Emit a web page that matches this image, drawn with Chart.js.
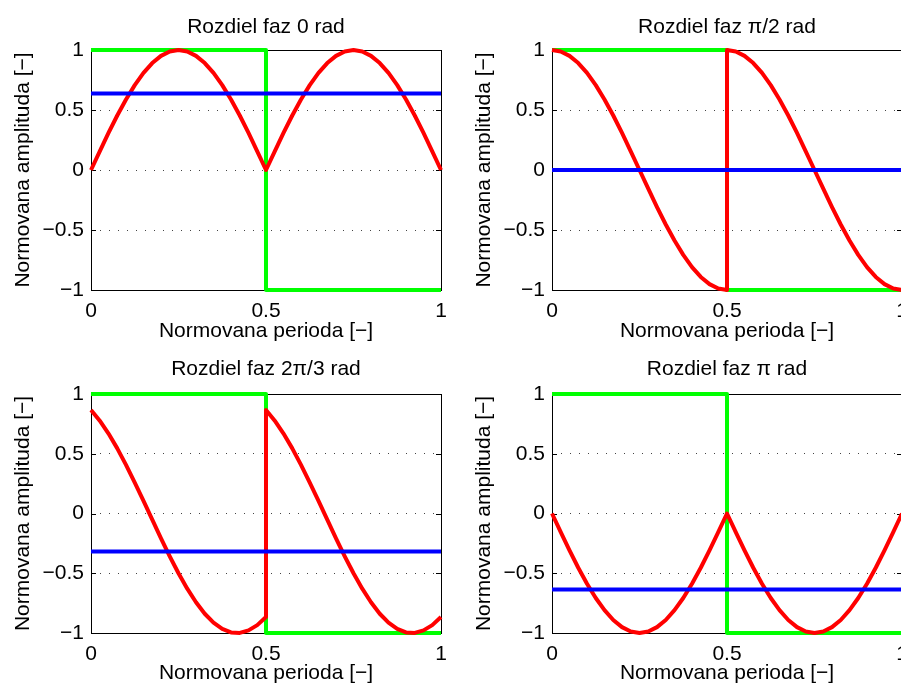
<!DOCTYPE html>
<html>
<head>
<meta charset="utf-8">
<script src="https://cdn.jsdelivr.net/npm/chart.js@4/dist/chart.umd.min.js"></script>
<style>
  html, body { margin: 0; padding: 0; background: #fff; }
  body { width: 901px; height: 690px; overflow: hidden; position: relative; }
  canvas { position: absolute; }
</style>
</head>
<body>
<canvas id="plot-0" width="460" height="345" style="left:0px;top:0px"></canvas>
<canvas id="plot-1" width="460" height="345" style="left:461px;top:0px"></canvas>
<canvas id="plot-2" width="460" height="345" style="left:0px;top:345px"></canvas>
<canvas id="plot-3" width="460" height="345" style="left:461px;top:345px"></canvas>
<script>
// values
const titles = ['Rozdiel faz 0 rad', 'Rozdiel faz \u03c0/2 rad', 'Rozdiel faz 2\u03c0/3 rad', 'Rozdiel faz \u03c0 rad'];

const periodX = [0, 0.025, 0.05, 0.075, 0.1, 0.125, 0.15, 0.175, 0.2, 0.225, 0.25, 0.275, 0.3, 0.325, 0.35, 0.375, 0.4, 0.425, 0.45, 0.475, 0.5,
  0.525, 0.55, 0.575, 0.6, 0.625, 0.65, 0.675, 0.7, 0.725, 0.75, 0.775, 0.8, 0.825, 0.85, 0.875, 0.9, 0.925, 0.95, 0.975, 1];
const jumpX = [0, 0.025, 0.05, 0.075, 0.1, 0.125, 0.15, 0.175, 0.2, 0.225, 0.25, 0.275, 0.3, 0.325, 0.35, 0.375, 0.4, 0.425, 0.45, 0.475, 0.5,
  0.5, 0.525, 0.55, 0.575, 0.6, 0.625, 0.65, 0.675, 0.7, 0.725, 0.75, 0.775, 0.8, 0.825, 0.85, 0.875, 0.9, 0.925, 0.95, 0.975, 1];

const redZero = [0, 0.156, 0.309, 0.454, 0.588, 0.707, 0.809, 0.891, 0.951, 0.988, 1, 0.988, 0.951, 0.891, 0.809, 0.707, 0.588, 0.454, 0.309, 0.156, 0,
  0.156, 0.309, 0.454, 0.588, 0.707, 0.809, 0.891, 0.951, 0.988, 1, 0.988, 0.951, 0.891, 0.809, 0.707, 0.588, 0.454, 0.309, 0.156, 0];
const redHalfPi = [1, 0.988, 0.951, 0.891, 0.809, 0.707, 0.588, 0.454, 0.309, 0.156, 0, -0.156, -0.309, -0.454, -0.588, -0.707, -0.809, -0.891, -0.951, -0.988, -1,
  1, 0.988, 0.951, 0.891, 0.809, 0.707, 0.588, 0.454, 0.309, 0.156, 0, -0.156, -0.309, -0.454, -0.588, -0.707, -0.809, -0.891, -0.951, -0.988, -1];
const redTwoThirdsPi = [0.866, 0.777, 0.669, 0.545, 0.407, 0.259, 0.105, -0.052, -0.208, -0.358, -0.5, -0.629, -0.743, -0.839, -0.914, -0.966, -0.995, -0.999, -0.978, -0.934, -0.866,
  0.866, 0.777, 0.669, 0.545, 0.407, 0.259, 0.105, -0.052, -0.208, -0.358, -0.5, -0.629, -0.743, -0.839, -0.914, -0.966, -0.995, -0.999, -0.978, -0.934, -0.866];
const redPi = [0, -0.156, -0.309, -0.454, -0.588, -0.707, -0.809, -0.891, -0.951, -0.988, -1, -0.988, -0.951, -0.891, -0.809, -0.707, -0.588, -0.454, -0.309, -0.156, 0,
  -0.156, -0.309, -0.454, -0.588, -0.707, -0.809, -0.891, -0.951, -0.988, -1, -0.988, -0.951, -0.891, -0.809, -0.707, -0.588, -0.454, -0.309, -0.156, 0];

const squareX = [0, 0.5, 0.5, 1];
const squareY = [1, 1, -1, -1];
const meanX = [0, 1];
const meanLevels = [0.637, 0, -0.318, -0.637];

const xTicks = [0, 0.5, 1];
const yTicks = [-1, -0.5, 0, 0.5, 1];

const redCurves = [
  { x: periodX, y: redZero },
  { x: jumpX, y: redHalfPi },
  { x: jumpX, y: redTwoThirdsPi },
  { x: periodX, y: redPi },
];

const FONT = { family: '"Liberation Sans", Arial, Helvetica, sans-serif', size: 21 };

const toPoints = (xs, ys) => xs.map((x, i) => ({ x, y: ys[i] }));
const minus = (v) => String(v).replace('-', '\u2212');

// MATLAB style box with inward ticks
const axesBox = {
  id: 'axesBox',
  beforeDatasetsDraw(chart) {
    const { ctx, chartArea: a, scales } = chart;
    ctx.save();
    ctx.strokeStyle = '#000';
    ctx.lineWidth = 1;
    ctx.strokeRect(a.left + 0.5, a.top + 0.5, a.right - a.left, a.bottom - a.top);
    ctx.beginPath();
    xTicks.forEach((v) => {
      const px = Math.round(scales.x.getPixelForValue(v)) + 0.5;
      ctx.moveTo(px, a.bottom); ctx.lineTo(px, a.bottom - 5);
      ctx.moveTo(px, a.top); ctx.lineTo(px, a.top + 5);
    });
    yTicks.forEach((v) => {
      const py = Math.round(scales.y.getPixelForValue(v)) + 0.5;
      ctx.moveTo(a.left, py); ctx.lineTo(a.left + 5, py);
      ctx.moveTo(a.right, py); ctx.lineTo(a.right - 5, py);
    });
    ctx.stroke();
    ctx.restore();
  },
};

function drawPlot(index) {
  const topRow = index < 2;
  const canvas = document.getElementById('plot-' + index);
  const curve = redCurves[index];

  new Chart(canvas, {
    type: 'line',
    data: {
      datasets: [
        {
          data: toPoints(meanX, [meanLevels[index], meanLevels[index]]),
          borderColor: '#0000ff',
          borderWidth: 4,
        },
        {
          data: toPoints(curve.x, curve.y),
          borderColor: '#ff0000',
          borderWidth: 4,
        },
        {
          data: toPoints(squareX, squareY),
          borderColor: '#00ff00',
          borderWidth: 4,
        },
      ],
    },
    options: {
      responsive: false,
      animation: false,
      devicePixelRatio: 1,
      layout: { padding: { left: 0, right: 19, top: 0, bottom: 0 } },
      elements: {
        point: { radius: 0 },
        line: { tension: 0, borderCapStyle: 'butt', borderJoinStyle: 'round' },
      },
      datasets: { line: { clip: false } },
      plugins: {
        legend: { display: false },
        tooltip: { enabled: false },
        title: {
          display: true,
          text: titles[index],
          fullSize: false,
          color: '#000',
          font: { ...FONT, weight: 'normal' },
          padding: topRow ? { top: 14.4, bottom: 10.4 } : { top: 11.4, bottom: 12.4 },
        },
      },
      scales: {
        x: {
          type: 'linear',
          min: 0,
          max: 1,
          afterFit: (scale) => { scale.height = topRow ? 55 : 57; },
          afterBuildTicks: (scale) => { scale.ticks = xTicks.map((value) => ({ value })); },
          grid: { display: false },
          border: { display: false },
          ticks: { color: '#000', font: FONT, padding: 1, maxRotation: 0, callback: minus },
          title: {
            display: true,
            text: 'Normovana perioda [\u2212]',
            color: '#000',
            font: FONT,
            padding: { top: 0, bottom: topRow ? 0.8 : 3.8 },
          },
        },
        y: {
          type: 'linear',
          min: -1,
          max: 1,
          afterFit: (scale) => { scale.width = 91; },
          afterBuildTicks: (scale) => { scale.ticks = yTicks.map((value) => ({ value })); },
          grid: {
            drawTicks: false,
            lineWidth: 1,
            color: (ctx) => (Math.abs(ctx.tick.value) === 1 ? 'rgba(0,0,0,0)' : '#444'),
          },
          border: { display: false, dash: [1, 8] },
          ticks: { color: '#000', font: FONT, padding: 7, callback: minus },
          title: {
            display: true,
            text: 'Normovana amplituda [\u2212]',
            color: '#000',
            font: FONT,
            padding: { top: 10.4, bottom: 0 },
          },
        },
      },
    },
    plugins: [axesBox],
  });
}

[0, 1, 2, 3].forEach(drawPlot);
</script>
</body>
</html>
